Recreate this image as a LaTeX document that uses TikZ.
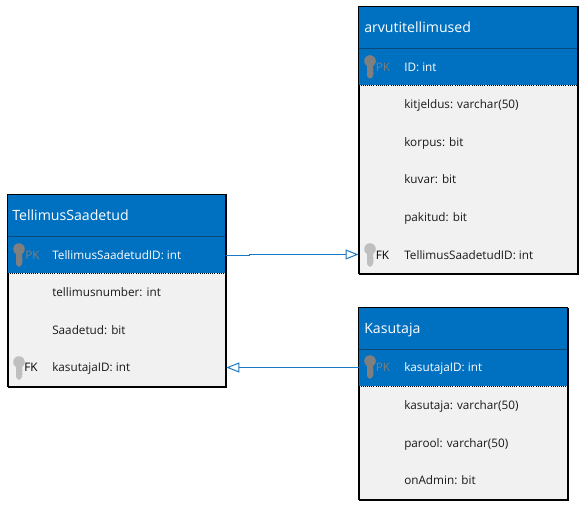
\documentclass[tikz,border=0pt]{standalone}
\usepackage{fontspec}
\setmainfont{Open Sans}
\usetikzlibrary{arrows.meta}
\definecolor{hdr}{HTML}{0070C0}
\definecolor{bodyc}{HTML}{F1F1F1}
\definecolor{linec}{HTML}{1A78C4}
\definecolor{keydark}{HTML}{7F7F7F}
\definecolor{keylight}{HTML}{BFBFBF}
\definecolor{sepc}{HTML}{0B4A78}
\tikzset{
  x=0.75pt,y=-0.75pt,
  tablebox/.style={draw=black,line width=0.6pt,fill=bodyc,inner sep=0pt,minimum width=#1*0.75pt,anchor=north west},
  title/.style={anchor=base west,text=white,font=\fontsize{10.6pt}{12pt}\selectfont,inner sep=0pt},
  pkfield/.style={anchor=base west,text=white,font=\fontsize{8.8pt}{10pt}\selectfont,inner sep=0pt},
  field/.style={anchor=base west,text=black!90,font=\fontsize{8.8pt}{10pt}\selectfont,inner sep=0pt},
  pklabel/.style={anchor=base west,text=keydark,font=\fontsize{8.8pt}{10pt}\selectfont,inner sep=0pt},
  fklabel/.style={anchor=base west,text=black,font=\fontsize{8.8pt}{10pt}\selectfont,inner sep=0pt},
  relation/.style={draw=linec,line width=0.75pt,-{Triangle[open,length=9.75pt,width=7.5pt,fill=white]}},
  keyicon/.pic={
    \fill[pic actions] (0,0) circle[radius=5.8];
    \fill[pic actions] (-3,2) -- (3,2) -- (3,8) -- (3.8,9) -- (3,10) -- (3,11) -- (3.8,12) -- (3,13) -- (3,15) -- (1,17.5) -- (-1,17.5) -- (-3,15) -- cycle;
  }
}
\newcommand{\tablebg}[7]{% name, x, y, w, h, headerbottom, pkbottom
  \node[tablebox=#4,minimum height=#5*0.75pt] (#1) at (#2,#3) {};
  \fill[hdr] (#2,#3) rectangle (#2+#4,#7);
  \draw[sepc,line width=0.6pt] (#2,#6) -- (#2+#4,#6);
  \draw[black,line width=0.6pt,densely dotted] (#2,#7) -- (#2+#4,#7);
  \draw[black,line width=0.6pt] (#2,#3) rectangle (#2+#4,#3+#5);
}
\begin{document}
\begin{tikzpicture}
\useasboundingbox (0,0) rectangle (582,506);

% TellimusSaadetud
\tablebg{t1}{7.5}{194.5}{218}{192}{236.5}{273}
\node[title] (t1t) at (12,220) {TellimusSaadetud};
\pic[keydark] at (19,249) {keyicon};
\node[pklabel] (t1pk) at (25,259) {PK};
\node[pkfield] (t1a) at (52,259) {TellimusSaadetudID: int};
\node[field] (t1b) at (52,296) {tellimusnumber: int};
\node[field] (t1c) at (52,334) {Saadetud: bit};
\pic[keylight] at (19,362) {keyicon};
\node[fklabel] (t1fk) at (24,371) {FK};
\node[field] (t1d) at (52,371) {kasutajaID: int};

% arvutitellimused
\tablebg{t2}{358.5}{6.5}{219}{267}{48.5}{85}
\node[title] (t2t) at (364,32.5) {arvutitellimused};
\pic[keydark] at (370,61) {keyicon};
\node[pklabel] (t2pk) at (375.5,71.5) {PK};
\node[pkfield] (t2a) at (404,71.5) {ID: int};
\node[field] (t2b) at (404,108.5) {kitjeldus: varchar(50)};
\node[field] (t2c) at (404,146.5) {korpus: bit};
\node[field] (t2d) at (404,183.5) {kuvar: bit};
\node[field] (t2e) at (404,221.5) {pakitud: bit};
\pic[keylight] at (370,249) {keyicon};
\node[fklabel] (t2fk) at (375.5,259) {FK};
\node[field] (t2f) at (404,259) {TellimusSaadetudID: int};

% Kasutaja
\tablebg{t3}{358.5}{307.5}{209}{192}{349.5}{386}
\node[title] (t3t) at (364,333) {Kasutaja};
\pic[keydark] at (370,361) {keyicon};
\node[pklabel] (t3pk) at (375.5,371) {PK};
\node[pkfield] (t3a) at (404,371) {kasutajaID: int};
\node[field] (t3b) at (404,409) {kasutaja: varchar(50)};
\node[field] (t3c) at (404,447) {parool: varchar(50)};
\node[field] (t3d) at (404,484) {onAdmin: bit};

% connectors
\coordinate (c1a) at (t1.east |- 0,255.5);
\coordinate (c1b) at (249,255.5);
\coordinate (c1c) at (249,254.5);
\coordinate (c1d) at (t2.west |- 0,254.5);
\draw[relation] (c1a) -- (c1b) -- (c1c) -- (c1d);
\coordinate (c2a) at (t3.west |- 0,367.5);
\coordinate (c2b) at (t1.east |- 0,367.5);
\draw[relation] (c2a) -- (c2b);
\end{tikzpicture}
\end{document}
